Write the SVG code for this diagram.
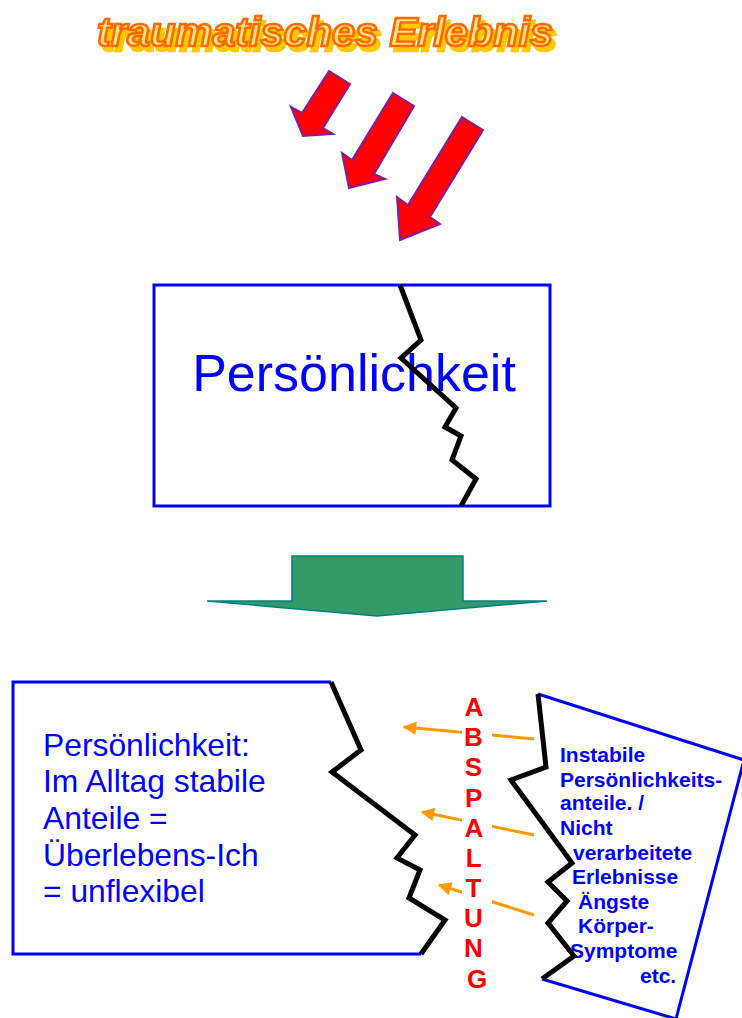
<svg xmlns="http://www.w3.org/2000/svg" width="742" height="1018" viewBox="0 0 742 1018">
<style>
.title{font-family:"Liberation Sans",Arial,sans-serif;font-weight:bold;font-style:italic;font-size:41px}
.red{fill:#FF0000;stroke:#7A1FA2;stroke-width:2;stroke-linejoin:miter}
.crack{fill:none;stroke:#000;stroke-width:5;stroke-linejoin:miter}
.box{fill:none;stroke:#0000FF;stroke-width:3}
.blue{font-family:"Liberation Sans",Arial,sans-serif;fill:#0000FF}
.rt{font-family:"Liberation Sans",Arial,sans-serif;font-weight:bold;font-size:21px;fill:#0000FF}
.ab{font-family:"Liberation Sans",Arial,sans-serif;font-weight:bold;font-size:26px;fill:#FF0000;text-anchor:middle}
.orange{stroke:#FF9900;stroke-width:3;fill:none;marker-end:url(#ah)}
</style>
<defs>
<marker id="ah" viewBox="0 0 10 10" refX="9" refY="5" markerWidth="5" markerHeight="4.5" orient="auto" markerUnits="strokeWidth">
<path d="M0,0 L10,5 L0,10 z" fill="#FF9900"/>
</marker>
<filter id="shadow" x="-5%" y="-30%" width="115%" height="170%">
<feFlood flood-color="#FFC800" result="c"/>
<feComposite in="c" in2="SourceAlpha" operator="in" result="s"/>
<feOffset in="s" dx="4" dy="5" result="o"/>
<feMerge><feMergeNode in="o"/><feMergeNode in="SourceGraphic"/></feMerge>
</filter>
</defs>
<rect width="742" height="1018" fill="#fff"/>

<g id="title">
<text class="title" x="97" y="46" fill="#FFE38A" stroke="#FF6A00" stroke-width="2.6" textLength="456" lengthAdjust="spacingAndGlyphs" filter="url(#shadow)">traumatisches Erlebnis</text>
</g>

<g id="red-arrows">
<polygon class="red" points="329,71 350,84 323,128 333,134 303,136 291,107 302,113"/>
<polygon class="red" points="393,93 414,106 374,174 385,179 349,188 342,153 352,160"/>
<polygon class="red" points="462,117 483,130 430,217 440,224 400,240 397,197 408,205"/>
</g>

<g id="personality">
<rect class="box" x="154" y="285" width="396" height="221"/>
<text class="blue" x="354" y="391" font-size="52" text-anchor="middle">Persönlichkeit</text>
<polyline class="crack" points="400,285 421,340 401,358 456,408 445,427 461,436 452,460 476,479 461,506"/>
</g>

<g id="green-arrow">
<polygon points="292,556 463,556 463,601 547,601 377,616 207,601 292,601" fill="#339966" stroke="#008080" stroke-width="1.5"/>
</g>

<g id="connectors">
<line class="orange" x1="534" y1="739" x2="404" y2="727"/>
<line class="orange" x1="534" y1="835" x2="422" y2="812"/>
<line class="orange" x1="534" y1="915" x2="439" y2="885"/>
</g>

<g id="stable-part">
<polyline class="box" points="331,682 13,682 13,954 421,954"/>
<polyline class="crack" points="331,682 361,750 332,772 415,835 397,858 420,870 409,898 445,920 421,954"/>
<text class="blue" font-size="31.8">
<tspan x="43" y="756">Persönlichkeit:</tspan>
<tspan x="43" y="792">Im Alltag stabile</tspan>
<tspan x="43" y="829">Anteile =</tspan>
<tspan x="43" y="866">Überlebens-Ich</tspan>
<tspan x="43" y="902">= unflexibel</tspan>
</text>
</g>

<g id="abspaltung">
<rect x="462" y="694" width="30" height="300" fill="#fff"/>
<text class="ab">
<tspan x="477" y="716">A</tspan>
<tspan x="477" y="746">B</tspan>
<tspan x="477" y="776">S</tspan>
<tspan x="477" y="807">P</tspan>
<tspan x="477" y="837">A</tspan>
<tspan x="477" y="867">L</tspan>
<tspan x="477" y="897">T</tspan>
<tspan x="477" y="927">U</tspan>
<tspan x="477" y="957">N</tspan>
<tspan x="477" y="988">G</tspan>
</text>
</g>

<g id="unstable-part">
<polyline class="box" points="538,694 744,760 676,1019 542,979"/>
<text class="rt">
<tspan x="560" y="762">Instabile</tspan>
<tspan x="560" y="787">Persönlichkeits-</tspan>
<tspan x="560" y="810">anteile. /</tspan>
<tspan x="560" y="835">Nicht</tspan>
<tspan x="573" y="860">verarbeitete</tspan>
<tspan x="572" y="884">Erlebnisse</tspan>
<tspan x="578" y="909">Ängste</tspan>
<tspan x="578" y="933">Körper-</tspan>
<tspan x="570" y="958">Symptome</tspan>
<tspan x="640" y="983">etc.</tspan>
</text>
<polyline class="crack" points="538,694 546,767 511,780 572,863 548,882 567,901 548,923 574,956 542,979"/>
</g>
</svg>
